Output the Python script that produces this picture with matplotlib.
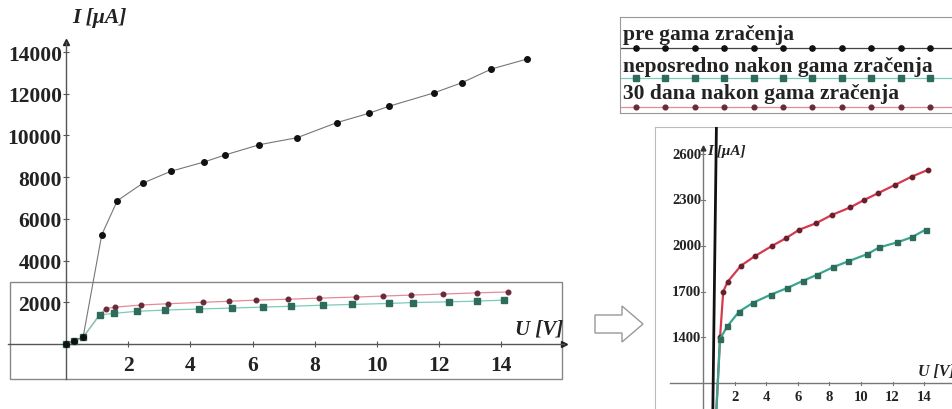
import matplotlib
matplotlib.use('Agg')
import matplotlib.pyplot as plt
import numpy as np
from matplotlib.patches import Rectangle, Polygon

# ---------------- data ----------------
u_pre = [0, 0.25, 0.55, 1.15, 1.65, 2.48, 3.37, 4.44, 5.11, 6.22, 7.43, 8.70, 9.74, 10.38, 11.82, 12.73, 13.68, 14.83]
i_pre = [0, 150, 330, 5242, 6873, 7722, 8283, 8729, 9065, 9559, 9894, 10614, 11065, 11400, 12038, 12532, 13189, 13669]

u_neposredno = [0, 0.25, 0.55, 1.08, 1.54, 2.28, 3.18, 4.28, 5.34, 6.35, 7.23, 8.25, 9.2, 10.4, 11.16, 12.3, 13.2, 14.09]
i_neposredno = [0, 150, 320, 1390, 1472, 1568, 1627, 1679, 1723, 1771, 1810, 1860, 1898, 1945, 1989, 2022, 2055, 2105]

u_30dana = [0, 0.25, 0.55, 1.08, 1.28, 1.56, 2.4, 3.29, 4.39, 5.23, 6.1, 7.15, 8.15, 9.32, 10.19, 11.1, 12.13, 13.2, 14.22]
i_30dana = [0, 150, 330, 1400, 1700, 1764, 1869, 1932, 2000, 2048, 2105, 2147, 2201, 2251, 2299, 2345, 2397, 2452, 2496]

x_ticks = [2, 4, 6, 8, 10, 12, 14]
y_ticks_main = [2000, 4000, 6000, 8000, 10000, 12000, 14000]
y_ticks_inset = [1400, 1700, 2000, 2300, 2600]
legend_labels = ["pre gama zračenja", "neposredno nakon gama zračenja", "30 dana nakon gama zračenja"]

# ---------------- figure ----------------
W, H = 953, 410
fig = plt.figure(figsize=(W / 100, H / 100), dpi=100)
SERIF = ['Liberation Serif', 'DejaVu Serif']

def px_axes(l, t, r, b):
    return fig.add_axes([l / W, 1 - b / H, (r - l) / W, (b - t) / H])

AX_COL = '#555555'

# ---------------- main chart ----------------
ax = px_axes(5, 5, 575, 385)
ax.set_xlim((5 - 66) / 31.1, (575 - 66) / 31.1)
ax.set_ylim((345 - 385) / 20.85 * 1000, (345 - 5) / 20.85 * 1000)
for s in ['top', 'right']:
    ax.spines[s].set_visible(False)
ax.spines['left'].set_position(('data', 0))
ax.spines['bottom'].set_position(('data', 0))
ax.spines['left'].set_bounds(-1700, 14500)
ax.spines['bottom'].set_bounds(-1.85, 16.0)
for s in ['left', 'bottom']:
    ax.spines[s].set_color(AX_COL)
    ax.spines[s].set_linewidth(1.0)
ax.plot([0], [14500], marker='^', ms=5, color='#222', clip_on=False)
ax.plot([16.0], [0], marker='>', ms=5, color='#222', clip_on=False)

ax.set_xticks(x_ticks)
ax.set_xticklabels([str(v) for v in x_ticks])
ax.set_yticks(y_ticks_main)
ax.set_yticklabels([str(v) for v in y_ticks_main])
ax.tick_params(axis='both', direction='inout', length=4, color=AX_COL, width=0.8)
ax.tick_params(axis='x', pad=6)
ax.tick_params(axis='y', pad=1)
for lab in ax.get_xticklabels() + ax.get_yticklabels():
    lab.set_fontfamily(SERIF)
    lab.set_fontweight('bold')
    lab.set_fontsize(15.5)
    lab.set_color('#222')

ax.plot(u_pre, i_pre, '-', color='#777777', lw=0.8, marker='o', ms=4,
        mfc='#111', mec='#111', zorder=4)
ax.plot(u_30dana, i_30dana, '-', color='#e58a9a', lw=0.9, marker='o', ms=3.3,
        mfc='#6b2a3a', mec='#6b2a3a', zorder=3)
ax.plot(u_neposredno, i_neposredno, '-', color='#7ccbb8', lw=0.9, marker='s', ms=3.8,
        mfc='#2d6b5a', mec='#2d6b5a', zorder=3)

ax.add_patch(Rectangle((-1.8, -1680), 17.75, 4650, fill=False, ec='#888', lw=1.0, zorder=1))

ax.text(0.2, (345 - 18) / 20.85 * 1000, "I [μA]", fontfamily=SERIF, fontweight='bold',
        fontstyle='italic', fontsize=15.5, ha='left', va='center', color='#222', clip_on=False)
ax.text(14.45, 720, "U [V]", fontfamily=SERIF, fontweight='bold', fontstyle='italic',
        fontsize=15, ha='left', va='center', color='#222')

# ---------------- hollow arrow ----------------
arrow_px = [(595, 316), (622, 316), (622, 307), (643, 325), (622, 343), (622, 334), (595, 334)]
fig.patches.append(Polygon([(x / W, 1 - y / H) for x, y in arrow_px], closed=True,
                           transform=fig.transFigure, fc='white', ec='#999', lw=1.0))

# ---------------- legend ----------------
lg = px_axes(620, 18, 953, 114)
lg.set_xlim(0, 1)
lg.set_ylim(0, 1)
lg.set_xticks([])
lg.set_yticks([])
for s in ['left', 'top', 'bottom']:
    lg.spines[s].set_color('#999')
lg.spines['right'].set_visible(False)
mx = np.linspace(16 / 333, 310 / 333, 11)
rows = [
    (legend_labels[0], 0.82, 0.675, '#444', 'o', '#111', 3.8),
    (legend_labels[1], 0.49, 0.365, '#7ccbb8', 's', '#2d6b5a', 3.8),
    (legend_labels[2], 0.205, 0.065, '#e58a9a', 'o', '#6b2a3a', 3.4),
]
for lab, ty, ly, lc, mk, mc, ms in rows:
    lg.plot([0, 1], [ly, ly], '-', color=lc, lw=0.9)
    lg.plot(mx, [ly] * len(mx), ls='none', marker=mk, ms=ms, mfc=mc, mec=mc)
    lg.text(0.01, ty, lab, fontfamily=SERIF, fontweight='bold', fontsize=15.5,
            ha='left', va='center', color='#222', clip_on=False)

# ---------------- inset (zoom) ----------------
ia = px_axes(655, 128, 953, 410)
ia.set_xlim((655 - 703) / 15.8, (953 - 703) / 15.8)
ia.set_ylim(1400 - (410 - 338.3) / 45.8 * 300, 1400 + (338.3 - 128) / 45.8 * 300)
for s in ['right', 'bottom']:
    ia.spines[s].set_visible(False)
for s in ['left', 'top']:
    ia.spines[s].set_color('#bbbbbb')
ia.set_xticks([])
ia.set_yticks([])

ylo, yhi = ia.get_ylim()
xlo, xhi = ia.get_xlim()
ia.axvline(0, ymin=0, ymax=(2640 - ylo) / (yhi - ylo), color='#777', lw=1.0, zorder=1)
ia.axhline(1100, xmin=(-2.1 - xlo) / (xhi - xlo), color='#777', lw=1.0, zorder=1)
ia.plot([0], [2640], marker='^', ms=3.5, color='#333')

for t in y_ticks_inset:
    ia.plot([-0.12, 0.12], [t, t], color='#777', lw=0.8)
    ia.text(-0.12, t, str(t), fontfamily=SERIF, fontweight='bold', fontsize=10.5,
            ha='right', va='center', color='#222')
for t in x_ticks:
    ia.plot([t, t], [1090, 1110], color='#777', lw=0.8)
    ia.text(t, 1010, str(t), fontfamily=SERIF, fontweight='bold', fontsize=10.5,
            ha='center', va='center', color='#222')

ia.plot(u_pre, i_pre, '-', color='#111', lw=2.0, zorder=4)
ia.plot(u_30dana, i_30dana, '-', color='#d43a4e', lw=1.6, marker='o', ms=3.2,
        mfc='#6b1f2a', mec='#6b1f2a', zorder=3)
ia.plot(u_neposredno, i_neposredno, '-', color='#3aa58f', lw=1.6, marker='s', ms=3.6,
        mfc='#2d6b5a', mec='#2d6b5a', zorder=3)

ia.text(0.25, 1400 + (338.3 - 152) / 45.8 * 300, "I [μA]", fontfamily=SERIF, fontweight='bold',
        fontstyle='italic', fontsize=11, ha='left', va='center', color='#222')
ia.text(13.6, 1400 + (338.3 - 372) / 45.8 * 300, "U [V]", fontfamily=SERIF, fontweight='bold',
        fontstyle='italic', fontsize=11.5, ha='left', va='center', color='#222', clip_on=False)

fig.savefig('out.png', dpi=100)
